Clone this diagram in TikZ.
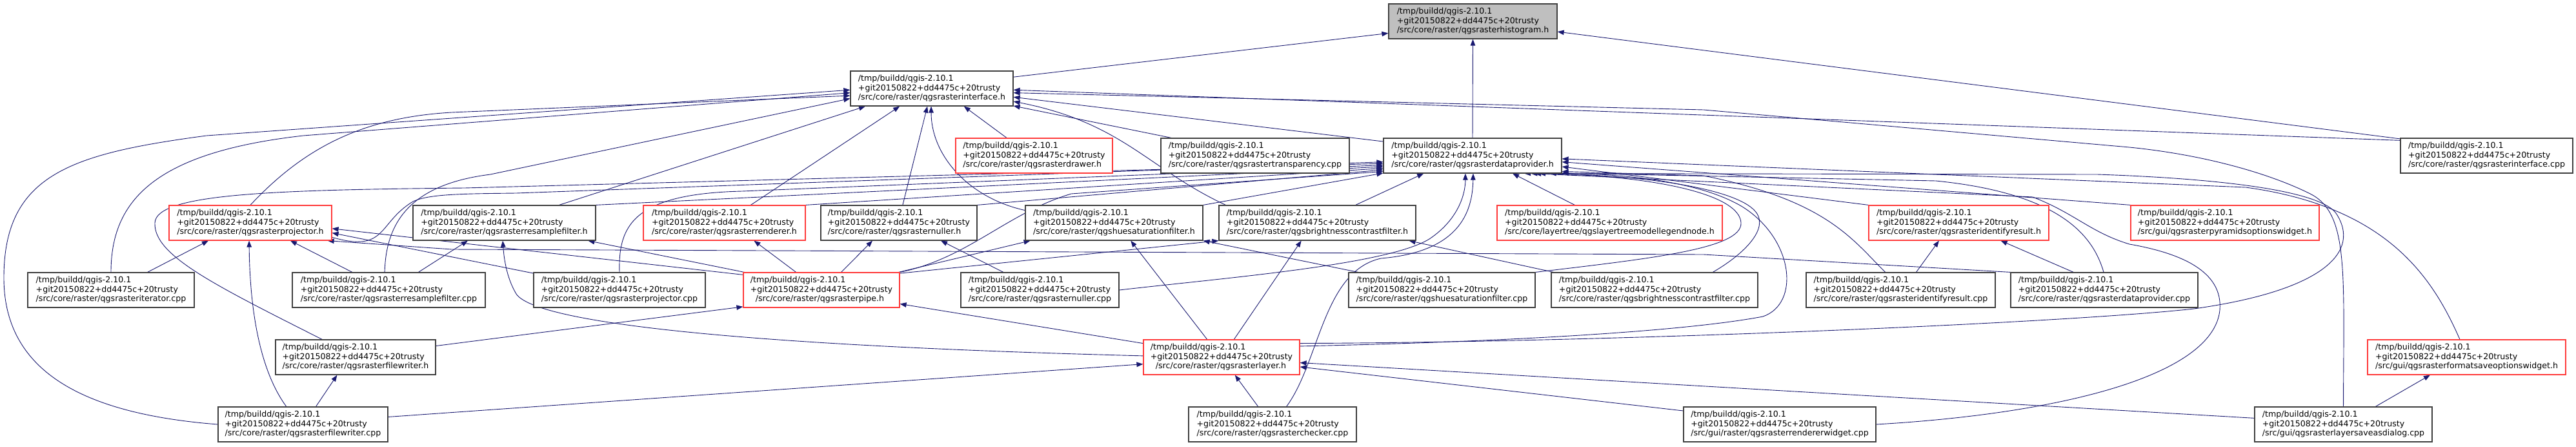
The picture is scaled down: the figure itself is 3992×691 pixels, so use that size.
\documentclass[tikz,border=0pt]{standalone}
\usepackage{fontspec}
\setmainfont{DejaVu Sans}
\usetikzlibrary{arrows.meta}
\definecolor{edgeblue}{HTML}{191970}
\definecolor{truncred}{HTML}{FF3B3B}
\definecolor{rootgray}{HTML}{BFBFBF}
\definecolor{boxline}{HTML}{404040}
\newcommand{\qpath}[1]{/tmp/buildd/qgis-2.10.1\\+git20150822+dd4475c+20trusty\\#1}
\pgfdeclarelayer{edges}
\pgfsetlayers{edges,main}
\begin{document}
\begin{tikzpicture}[x=1pt,y=-1pt,>={Triangle[length=10pt,width=7.5pt]},
  font=\fontsize{12.6}{14.5}\selectfont,
  filebox/.style={draw=boxline,line width=1.2pt,fill=white,align=left,minimum height=54pt,inner xsep=8pt,inner ysep=2pt},
  redbox/.style={filebox,draw=truncred},
  rootbox/.style={filebox,fill=rootgray},
  dep/.style={->,draw=edgeblue,line width=0.9pt}]
\useasboundingbox (0,0) rectangle (3992,691);
\node[rootbox,minimum width=261pt] (hist) at (2282.5,33) {\qpath{/src/core/raster/qgsrasterhistogram.h}};
\node[filebox,minimum width=252pt] (iface) at (1444,137) {\qpath{/src/core/raster/qgsrasterinterface.h}};
\node[redbox,minimum width=243pt] (drawer) at (1602.5,241) {\qpath{/src/core/raster/qgsrasterdrawer.h}};
\node[filebox,minimum width=292pt] (transp) at (1945,241) {\qpath{/src/core/raster/qgsrastertransparency.cpp}};
\node[filebox,minimum width=276pt] (dprov) at (2282,241) {\qpath{/src/core/raster/qgsrasterdataprovider.h}};
\node[filebox,minimum width=267pt] (ifacecpp) at (3853.5,241) {\qpath{/src/core/raster/qgsrasterinterface.cpp}};
\node[redbox,minimum width=252pt] (projh) at (388,345) {\qpath{/src/core/raster/qgsrasterprojector.h}};
\node[filebox,minimum width=283pt] (resh) at (781.5,345) {\qpath{/src/core/raster/qgsrasterresamplefilter.h}};
\node[redbox,minimum width=251pt] (rendh) at (1122.5,345) {\qpath{/src/core/raster/qgsrasterrenderer.h}};
\node[filebox,minimum width=242pt] (nullh) at (1393,345) {\qpath{/src/core/raster/qgsrasternuller.h}};
\node[filebox,minimum width=275pt] (hueh) at (1726.5,345) {\qpath{/src/core/raster/qgshuesaturationfilter.h}};
\node[filebox,minimum width=305pt] (brih) at (2041.5,345) {\qpath{/src/core/raster/qgsbrightnesscontrastfilter.h}};
\node[redbox,minimum width=349pt] (legend) at (2494.5,345) {\qpath{/src/core/layertree/qgslayertreemodellegendnode.h}};
\node[redbox,minimum width=279pt] (identh) at (3035.5,345) {\qpath{/src/core/raster/qgsrasteridentifyresult.h}};
\node[redbox,minimum width=292pt] (pyrh) at (3448,345) {\qpath{/src/gui/qgsrasterpyramidsoptionswidget.h}};
\node[filebox,minimum width=258pt] (itercpp) at (172,449) {\qpath{/src/core/raster/qgsrasteriterator.cpp}};
\node[filebox,minimum width=299pt] (rescpp) at (602.5,449) {\qpath{/src/core/raster/qgsrasterresamplefilter.cpp}};
\node[filebox,minimum width=266pt] (projcpp) at (960,449) {\qpath{/src/core/raster/qgsrasterprojector.cpp}};
\node[redbox,minimum width=242pt] (pipeh) at (1273,449) {\qpath{\hspace*{8pt}/src/core/raster/qgsrasterpipe.h}};
\node[filebox,minimum width=245pt] (nullcpp) at (1611.5,449) {\qpath{/src/core/raster/qgsrasternuller.cpp}};
\node[filebox,minimum width=289pt] (huecpp) at (2234.5,449) {\qpath{/src/core/raster/qgshuesaturationfilter.cpp}};
\node[filebox,minimum width=320pt] (bricpp) at (2564,449) {\qpath{/src/core/raster/qgsbrightnesscontrastfilter.cpp}};
\node[filebox,minimum width=293pt] (identcpp) at (2945.5,449) {\qpath{/src/core/raster/qgsrasteridentifyresult.cpp}};
\node[filebox,minimum width=290pt] (dprovcpp) at (3261,449) {\qpath{/src/core/raster/qgsrasterdataprovider.cpp}};
\node[filebox,minimum width=248pt] (fwh) at (551,553) {\qpath{/src/core/raster/qgsrasterfilewriter.h}};
\node[redbox,minimum width=242pt] (layerh) at (1893,553) {\qpath{\hspace*{8pt}/src/core/raster/qgsrasterlayer.h}};
\node[redbox,minimum width=307pt] (fmth) at (3822.5,553) {\qpath{/src/gui/qgsrasterformatsaveoptionswidget.h}};
\node[filebox,minimum width=263pt] (fwcpp) at (469.5,657) {\qpath{/src/core/raster/qgsrasterfilewriter.cpp}};
\node[filebox,minimum width=260pt] (checkcpp) at (1972,657) {\qpath{/src/core/raster/qgsrasterchecker.cpp}};
\node[filebox,minimum width=298pt] (rendwcpp) at (2758,657) {\qpath{/src/gui/raster/qgsrasterrendererwidget.cpp}};
\node[filebox,minimum width=275pt] (saveascpp) at (3631.5,657) {\qpath{/src/gui/qgsrasterlayersaveasdialog.cpp}};
\begin{pgfonlayer}{edges}
\foreach \a/\b in {iface.8/hist.188,dprov.north/hist.south,ifacecpp.169/hist.353,
  ifacecpp.170/iface.359,dprov.171/iface.354,transp.168/iface.348,drawer.147/iface.331,
  rendh.34/iface.209,resh.18/iface.195,nullh.78/iface.256,
  resh.north east/dprov.187,rendh.north east/dprov.188,nullh.north east/dprov.189,hueh.north east/dprov.191,
  brih.25/dprov.200,legend.153/dprov.336,identh.north west/dprov.353,pyrh.north west/dprov.356,
  itercpp.26/projh.203,rescpp.154/projh.336,rescpp.31/resh.206,projcpp.169/projh.353,
  pipeh.169/projh.356,pipeh.167/resh.348,pipeh.145/rendh.329,pipeh.42/nullh.214,
  pipeh.13/hueh.192,pipeh.12/brih.south west,nullcpp.154/nullh.337,
  huecpp.168/hueh.south east,bricpp.170/brih.349,dprovcpp.150/identh.337,identcpp.49/identh.222,
  layerh.170/pipeh.350,layerh.129/hueh.313,layerh.55/brih.228,
  fwh.8/pipeh.192,fwcpp.54/fwh.224,fwcpp.5/layerh.185,checkcpp.129/layerh.307,
  rendwcpp.172/layerh.353,saveascpp.176/layerh.356,saveascpp.29/fmth.206}
  \draw[dep] (\a) -- (\b);
\draw[dep] (hueh.172) .. controls (1500,306) and (1443,240) .. (iface.268);
\draw[dep] (brih.169) .. controls (1780,262) and (1740,190) .. (iface.351);
\draw[dep] (projh.north) .. controls (470,230) and (560,182) .. (700,174) -- (iface.185);
\draw[dep] (itercpp.north) .. controls (172,310) and (240,236) .. (470,210) -- (iface.183);
\draw[dep] (fwcpp.west) .. controls (120,640) and (6,570) .. (6,430) .. controls (6,270) and (110,238) .. (320,210) -- (iface.181);
\draw[dep] (rescpp.103) .. controls (598,340) and (640,285) .. (760,270) -- (iface.187);
\draw[dep] (saveascpp.north) .. controls (3632,420) and (3640,330) .. (3580,300) .. controls (3520,270) and (3420,240) .. (3300,228) -- (2640,170) -- (iface.357);
\draw[dep] (fwh.152) .. controls (330,440) and (238,395) .. (240,345) .. controls (242,300) and (420,294) .. (720,291) -- (dprov.185);
\draw[dep] (projcpp.north) .. controls (958,350) and (980,300) .. (1150,296) -- (dprov.186);
\draw[dep] (pipeh.north east) .. controls (1500,400) and (1560,330) .. (1660,300) -- (dprov.190);
\draw[dep] (projh.350) .. controls (600,392) and (585,345) .. (640,312) .. controls (665,300) and (720,300) .. (800,299) -- (dprov.184);
\draw[dep] (nullcpp.east) .. controls (1900,430) and (2150,410) .. (2215,370) .. controls (2260,340) and (2271,300) .. (dprov.248);
\draw[dep] (checkcpp.52) .. controls (2045,560) and (2050,420) .. (2140,400) .. controls (2260,390) and (2282,330) .. (dprov.272);
\draw[dep] (identcpp.131) .. controls (2870,370) and (2830,310) .. (2640,272) -- (dprov.350);
\draw[dep] (dprovcpp.92) .. controls (3245,370) and (3200,300) .. (3000,280) -- (dprov.349);
\draw[dep] (huecpp.north east) .. controls (2560,400) and (2700,385) .. (2698,345) .. controls (2696,300) and (2560,272) .. (dprov.345);
\draw[dep] (bricpp.17) .. controls (2700,395) and (2735,360) .. (2725,335) .. controls (2710,295) and (2560,270) .. (dprov.343);
\draw[dep] (layerh.8) .. controls (2300,530) and (2600,515) .. (2732,490) .. controls (2790,470) and (2780,370) .. (2700,320) .. controls (2650,290) and (2550,265) .. (dprov.341);
\draw[dep] (layerh.10) .. controls (2500,530) and (3200,500) .. (3400,478) .. controls (3600,450) and (3660,390) .. (3620,330) .. controls (3590,290) and (3400,275) .. (3250,270) -- (dprov.347);
\draw[dep] (fmth.111) .. controls (3770,430) and (3700,320) .. (3480,290) -- (dprov.358);
\draw[dep] (rendwcpp.east) .. controls (3200,640) and (3430,580) .. (3440,480) .. controls (3445,420) and (3380,392) .. (3300,378) .. controls (3240,360) and (3215,330) .. (3150,305) -- (dprov.344);
\draw[dep] (layerh.179) .. controls (1150,535) and (830,500) .. (800,455) .. controls (785,430) and (781,400) .. (resh.265);
\draw[dep] (fwcpp.133) .. controls (400,570) and (387,470) .. (projh.266);
\draw[dep] (dprovcpp.north west) -- (2640,394) -- (700,386) -- (projh.347);
\end{pgfonlayer}
\end{tikzpicture}
\end{document}
